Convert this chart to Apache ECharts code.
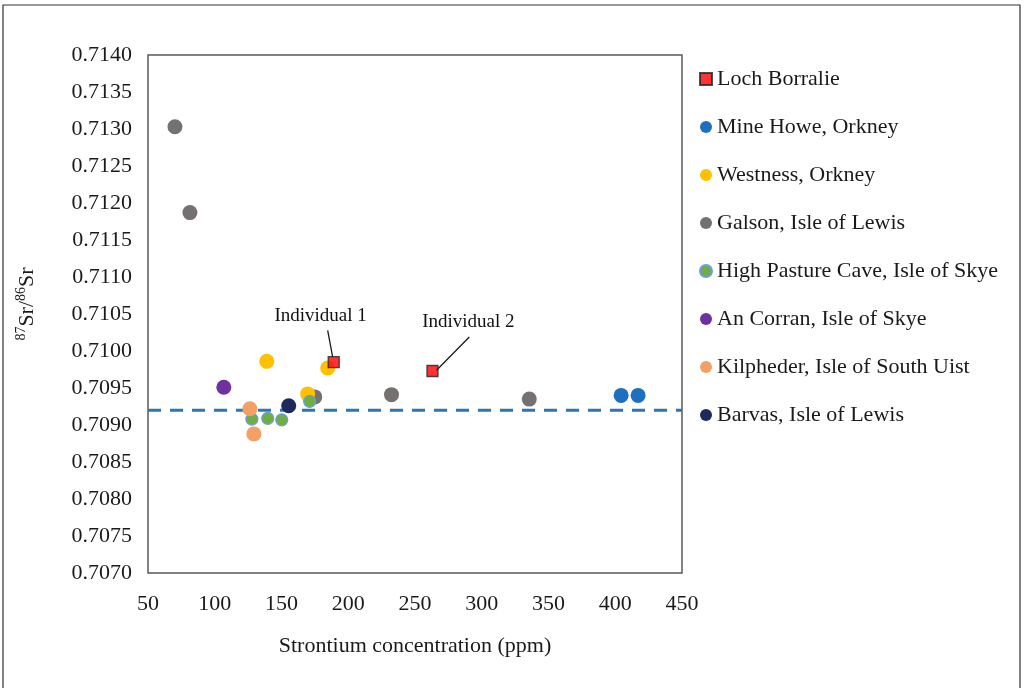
<!DOCTYPE html>
<html><head><meta charset="utf-8">
<script src="https://cdn.jsdelivr.net/npm/echarts@6/dist/echarts.min.js"></script>
<style>html,body{margin:0;padding:0;background:#fff}#c{width:1025px;height:688px}</style>
</head><body><div id="c"></div>
<script>
// Data: [Sr ppm, 87Sr/86Sr]
const lochBorralie = [[189.1, 0.70985], [263.1, 0.70973]];
const mineHowe = [[404.4, 0.70940], [417.1, 0.70940]];
const westness = [[139.0, 0.70986], [184.6, 0.70977], [169.6, 0.70942]];
const galson = [[70.2, 0.71303], [81.4, 0.71187], [174.9, 0.70938], [232.4, 0.70941], [335.6, 0.70935]];
const highPastureCave = [[171.1, 0.70932], [127.8, 0.70908], [139.7, 0.70909], [150.2, 0.70907]];
const anCorran = [[106.8, 0.70951]];
const kilpheder = [[126.3, 0.70922], [129.3, 0.70888]];
const barvas = [[155.4, 0.70926]];
const baselineY = 0.70920;
const xTicks = {min: 50, max: 450, interval: 50};
const yTicks = {min: 0.7070, max: 0.7140, interval: 0.0005};
const annotationLabels = [[179.3, 0.71047, 'Individual 1'], [290.0, 0.71039, 'Individual 2']];
const annotationArrows = [[[184.6, 0.71028], [188.3, 0.70992]], [[290.7, 0.71019], [266.1, 0.70974]]];

const serif = '"Liberation Serif", "DejaVu Serif", serif';
const chart = echarts.init(document.getElementById('c'));

function circ(name, data, color, size, border) {
  return {
    name, type: 'scatter', data, symbol: 'circle', symbolSize: size,
    itemStyle: {color, opacity: 1, borderColor: border || color, borderWidth: border ? 1.2 : 0},
    z: 3
  };
}

const option = {
  animation: false,
  backgroundColor: '#fff',
  textStyle: {fontFamily: serif},
  grid: {left: 148, top: 55, right: 343, bottom: 115, show: true, borderColor: '#595959', borderWidth: 1.5, backgroundColor: 'transparent'},
  xAxis: {
    type: 'value', min: xTicks.min, max: xTicks.max, interval: xTicks.interval,
    axisLine: {show: false}, axisTick: {show: false}, splitLine: {show: false},
    axisLabel: {color: '#1a1a1a', fontSize: 22, fontFamily: serif, margin: 20},
    name: 'Strontium concentration (ppm)', nameLocation: 'middle', nameGap: 62,
    nameTextStyle: {color: '#1a1a1a', fontSize: 22, fontFamily: serif}
  },
  yAxis: {
    type: 'value', min: yTicks.min, max: yTicks.max, interval: yTicks.interval,
    axisLine: {show: false}, axisTick: {show: false}, splitLine: {show: false},
    axisLabel: {color: '#1a1a1a', fontSize: 22, fontFamily: serif, margin: 16, formatter: v => v.toFixed(4)},
    name: '{sup|87}{b|Sr/}{sup|86}{b|Sr}', nameLocation: 'middle', nameGap: 110, nameRotate: 90,
    nameTextStyle: {
      color: '#1a1a1a', fontFamily: serif, padding: [0, 0, 0, 20],
      rich: {
        sup: {fontSize: 14, fontFamily: serif, color: '#1a1a1a', verticalAlign: 'top', lineHeight: 24, padding: [0, 0, 9, 0]},
        b: {fontSize: 22, fontFamily: serif, color: '#1a1a1a', verticalAlign: 'bottom', lineHeight: 24}
      }
    }
  },
  legend: {
    orient: 'vertical', left: 694, top: 63, itemWidth: 12, itemHeight: 12, itemGap: 26,
    textStyle: {fontSize: 22, lineHeight: 22, fontFamily: serif, color: '#1a1a1a'},
    data: [
      {name: 'Loch Borralie', icon: 'rect'},
      {name: 'Mine Howe, Orkney', icon: 'circle'},
      {name: 'Westness, Orkney', icon: 'circle'},
      {name: 'Galson, Isle of Lewis', icon: 'circle'},
      {name: 'High Pasture Cave, Isle of Skye', icon: 'circle'},
      {name: 'An Corran, Isle of Skye', icon: 'circle'},
      {name: 'Kilpheder, Isle of South Uist', icon: 'circle'},
      {name: 'Barvas, Isle of Lewis', icon: 'circle'}
    ]
  },
  series: [
    {
      name: 'baseline', type: 'line', data: [[xTicks.min, baselineY], [xTicks.max, baselineY]],
      symbol: 'none', lineStyle: {color: '#2E75B6', width: 3, type: [13, 9]}, z: 1, silent: true
    },
    {
      name: 'annotations', type: 'scatter', symbolSize: 0, silent: true,
      itemStyle: {opacity: 1, color: 'transparent'},
      data: annotationLabels.map(a => ({value: [a[0], a[1]], label: {formatter: a[2]}})),
      label: {show: true, position: 'inside', fontSize: 19, fontFamily: serif, color: '#111', opacity: 1, textBorderWidth: 0},
      markLine: {
        silent: true, symbol: ['none', 'none'],
        lineStyle: {color: '#1a1a1a', width: 1.3, type: 'solid', opacity: 1}, label: {show: false},
        data: annotationArrows.map(a => [{coord: a[0]}, {coord: a[1]}])
      },
      z: 2
    },
    circ('Galson, Isle of Lewis', galson, '#767171', 15),
    circ('Mine Howe, Orkney', mineHowe, '#1F6FC0', 15),
    circ('Westness, Orkney', westness, '#FFC000', 15),
    circ('High Pasture Cave, Isle of Skye', highPastureCave, '#70AD47', 12, '#6A9FD8'),
    circ('An Corran, Isle of Skye', anCorran, '#7030A0', 15),
    circ('Kilpheder, Isle of South Uist', kilpheder, '#F4A064', 15),
    circ('Barvas, Isle of Lewis', barvas, '#1F2A5C', 15),
    {
      name: 'Loch Borralie', type: 'scatter', data: lochBorralie, symbol: 'rect', symbolSize: 11,
      itemStyle: {color: '#FF0000', borderColor: '#222', borderWidth: 1.3}, z: 4
    }
  ],
  graphic: [
    {type: 'rect', shape: {x: 3, y: 5, width: 1017, height: 700}, style: {fill: 'none', stroke: '#333', lineWidth: 1.2}, silent: true}
  ]
};
chart.setOption(option);
</script></body></html>
